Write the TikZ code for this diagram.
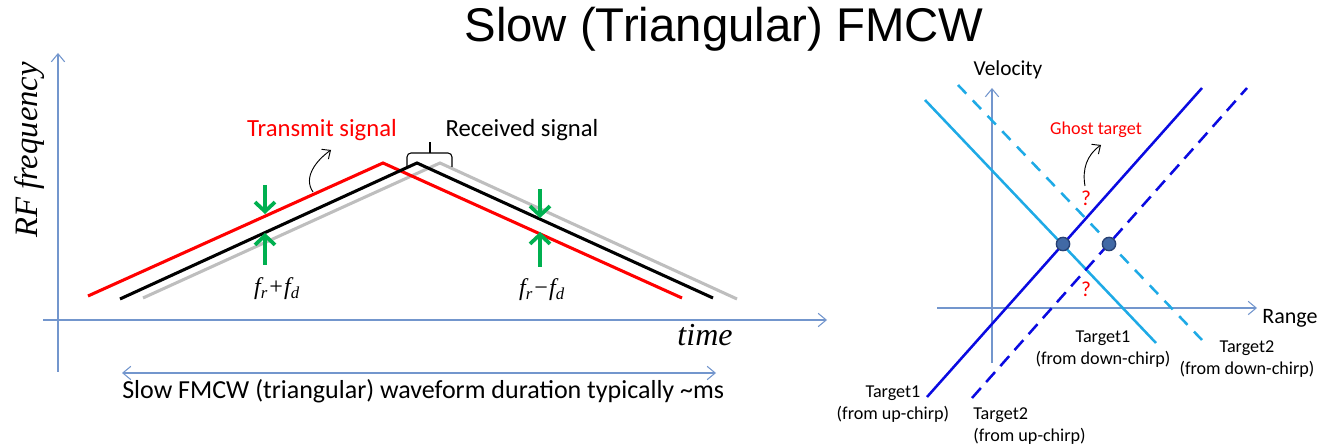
\documentclass[tikz,border=0pt]{standalone}
\usepackage{fontspec}
\setmainfont{Liberation Serif}
\newfontfamily\calib{Carlito}
\newfontfamily\arial{Liberation Sans}
\usepackage{tikz}
\usetikzlibrary{arrows.meta,positioning,calc}
\definecolor{mAxis}{RGB}{115,150,205}
\definecolor{mRed}{RGB}{255,0,0}
\definecolor{mGray}{RGB}{190,190,190}
\definecolor{mGreen}{RGB}{0,176,80}
\definecolor{mDark}{RGB}{10,10,225}
\definecolor{mCyan}{RGB}{30,170,230}
\definecolor{mDot}{RGB}{65,105,165}
\definecolor{mDotEdge}{RGB}{40,65,115}
\tikzset{
axisline/.style={draw=mAxis,line width=0.8pt,-{Straight Barb[length=6pt,width=10pt]}},
spanline/.style={draw=mAxis,line width=0.8pt,{Straight Barb[length=6pt,width=10pt]}-{Straight Barb[length=6pt,width=10pt]}},
sig/.style={line width=2.3pt},
gap/.style={draw=mGreen,line width=2.8pt,-{Straight Barb[length=7pt,width=15pt]}},
callout/.style={draw=black,line width=0.7pt,-{Straight Barb[length=5pt,width=9pt]}},
lbl/.style={font=\calib\fontsize{18.5}{22}\selectfont,inner sep=0pt},
tlabel/.style={font=\calib\fontsize{13.6}{16.5}\selectfont,inner sep=0pt,align=center},
track/.style={line width=1.9pt},
hit/.style={circle,fill=mDot,draw=mDotEdge,line width=1pt,minimum size=10pt,inner sep=0pt}
}

\begin{document}
\begin{tikzpicture}[x=0.75pt,y=-0.75pt]
\useasboundingbox (0,0) rectangle (1318,448);
\node[font=\arial\fontsize{35.5}{40}\selectfont] (title) at (724,29) {Slow (Triangular) FMCW};

\coordinate (fbot) at (58,372); \coordinate (ftop) at (58,53);
\coordinate (tleft) at (43,320); \coordinate (tright) at (827,320);
\draw[axisline] (fbot) -- (ftop);
\draw[axisline] (tleft) -- (tright);
\node[font=\itshape\fontsize{24.5}{28}\selectfont,rotate=90] (fylab) at (30,150) {RF frequency};
\node[font=\itshape\fontsize{24}{28}\selectfont] (tlab) at (705,335) {time};

\draw[sig,mGray] (143,298) -- (440,163) -- (737,299);
\draw[sig,mRed] (88,296) -- (383,163) -- (682,298);
\draw[sig,black] (120,299) -- (417,163) -- (713,298);

\draw[gap] (265,185) -- (265,214);
\draw[gap] (265,265) -- (265,233);
\draw[gap] (540,189) -- (540,218);
\draw[gap] (540,267) -- (540,232);
\node[font=\itshape\fontsize{18}{22}\selectfont] (up) at (277,289) {f\textsubscript{r}+f\textsubscript{d}};
\node[font=\itshape\fontsize{18}{22}\selectfont] (down) at (542,290) {f\textsubscript{r}−f\textsubscript{d}};

\node[lbl,text=mRed] (tx) at (322,130) {Transmit signal};
\node[lbl] (rx) at (522,130) {Received signal};
\coordinate (txfrom) at (313,192); \coordinate (txto) at (331,150);
\draw[callout] (txfrom) to[out=125,in=215] (txto);
\draw[line width=0.8pt,rounded corners=3pt] (407,167) -- (407,153) -- (452,153) -- (452,167);
\draw[line width=0.8pt] (430,153) -- (430,142);

\coordinate (sleft) at (122,373); \coordinate (sright) at (716,373);
\draw[spanline] (sleft) -- (sright);
\node[font=\calib\fontsize{19.5}{22}\selectfont,inner sep=0pt,anchor=base west] (span) at (122,399) {Slow FMCW (triangular) waveform duration typically \textasciitilde ms};

\coordinate (vbot) at (992,363); \coordinate (vtop) at (992,88);
\coordinate (rleft) at (937,308); \coordinate (rright) at (1257,308);
\draw[axisline] (vbot) -- (vtop);
\draw[axisline] (rleft) -- (rright);
\node[font=\calib\fontsize{16}{19}\selectfont] (vel) at (1008,70) {Velocity};
\node[font=\calib\fontsize{16.5}{19}\selectfont] (rng) at (1290,318) {Range};

\draw[track,mCyan,dash pattern=on 9pt off 7pt] (958,85) -- (1202,340);
\draw[track,mCyan] (925,100) -- (1156,343);
\draw[track,mDark,dash pattern=on 10pt off 6pt] (972,398) -- (1247,88);
\draw[track,mDark] (927,397) -- (1202,88);
\node[hit] (t1) at (1063,244) {};
\node[hit] (t2) at (1109,244) {};

\node[tlabel,text=mRed] (ghost) at (1096,130) {Ghost target};
\node[tlabel,text=mRed,font=\calib\fontsize{16}{19}\selectfont] (q1) at (1086,198) {?};
\node[tlabel,text=mRed,font=\calib\fontsize{16}{19}\selectfont] (q2) at (1086,289) {?};
\coordinate (gfrom) at (1085,186); \coordinate (gto) at (1101,145);
\draw[callout] (gfrom) to[out=100,in=215] (gto);

\node[tlabel] (t1d) at (1103,349) {Target1\\(from down-chirp)};
\node[tlabel] (t2d) at (1247,359) {Target2\\(from down-chirp)};
\node[tlabel] (t1u) at (893,404) {Target1\\(from up-chirp)};
\node[tlabel,align=left,anchor=west] (t2u) at (973,426) {Target2\\(from up-chirp)};
\end{tikzpicture}
\end{document}
